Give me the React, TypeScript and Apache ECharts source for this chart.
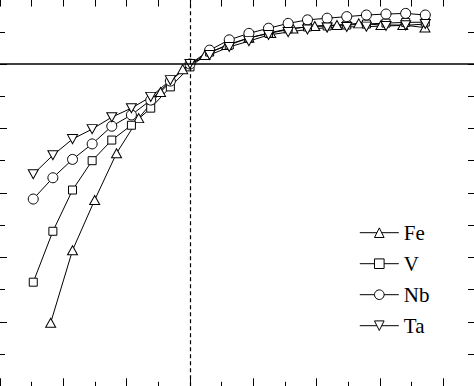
import React, { useEffect, useRef } from "react";
import * as echarts from "echarts";

// x positions (axis units: one minor tick = 1, dashed reference line at 0)
const xVNbTa = [-4.95, -4.33, -3.71, -3.09, -2.47, -1.85, -1.24, -0.62, 0.0, 0.62, 1.24, 1.86, 2.48, 3.1, 3.71, 4.33, 4.95, 5.57, 6.19, 6.81, 7.43];
const xFe = [-4.4, -3.71, -3.01, -2.32, -1.62, -0.93, -0.23, 0.47, 1.16, 1.86, 2.55, 3.25, 3.94, 4.64, 5.33, 6.03, 6.72, 7.42];

const feY = [-8.03, -5.78, -4.22, -2.77, -1.68, -0.87, -0.16, 0.28, 0.59, 0.81, 0.96, 1.1, 1.18, 1.21, 1.26, 1.21, 1.21, 1.13];
const vY = [-6.77, -5.19, -3.91, -3.0, -2.36, -1.9, -1.37, -0.71, -0.09, 0.37, 0.59, 0.81, 0.96, 1.09, 1.15, 1.18, 1.21, 1.24, 1.27, 1.29, 1.3];
const nbY = [-4.19, -3.53, -2.96, -2.48, -1.93, -1.58, -1.12, -0.53, 0.0, 0.43, 0.75, 0.95, 1.11, 1.26, 1.37, 1.42, 1.47, 1.52, 1.55, 1.57, 1.52];
const taY = [-3.42, -2.83, -2.33, -2.02, -1.65, -1.37, -1.02, -0.5, 0.0, 0.28, 0.53, 0.71, 0.9, 0.99, 1.07, 1.13, 1.15, 1.16, 1.18, 1.2, 1.24];

const seriesNames = ["Fe", "V", "Nb", "Ta"];

const X_MIN = -6;
const X_MAX = 9;
const Y_MIN = -10;
const Y_MAX = 2;

const downTriangle = "path://M0,0 L10,0 L5,9 Z";

export default function App() {
  const ref = useRef<HTMLDivElement>(null);
  useEffect(() => {
    document.documentElement.style.overflow = "hidden";
    document.body.style.overflow = "hidden";
    const chart = echarts.init(ref.current as HTMLDivElement, null, { renderer: "svg" });

    const gridBox = { left: 20, top: 19.54, width: 475, height: 386.76 };
    const tickStyle = { color: "#000", width: 1 };
    const baseX = (extra: any) => ({
      type: "value",
      min: X_MIN,
      max: X_MAX,
      axisLine: { show: false, onZero: false },
      axisLabel: { show: false },
      splitLine: { show: false },
      ...extra,
    });
    const baseY = (extra: any) => ({
      type: "value",
      min: Y_MIN,
      max: Y_MAX,
      axisLine: { show: false, onZero: false },
      axisLabel: { show: false },
      splitLine: { show: false },
      ...extra,
    });

    const mk = (name: string, xs: number[], ys: number[], symbol: string, size: any, extra: any = {}) => ({
      name,
      type: "line",
      xAxisIndex: 0,
      yAxisIndex: 0,
      data: xs.map((x, i) => [x, ys[i]]),
      symbol,
      symbolSize: size,
      showAllSymbol: true,
      lineStyle: { color: "#000", width: 1 },
      itemStyle: { color: "#fff", borderColor: "#000", borderWidth: 1 },
      emphasis: { disabled: true },
      ...extra,
    });

    const option: any = {
      animation: false,
      backgroundColor: "#fff",
      grid: [
        { ...gridBox, containLabel: false },
        { ...gridBox, containLabel: false },
      ],
      xAxis: [
        baseX({ gridIndex: 0, position: "bottom", interval: 2, axisTick: { show: true, inside: true, length: 8, lineStyle: tickStyle } }),
        baseX({ gridIndex: 0, position: "top", interval: 1, axisTick: { show: true, inside: true, length: 7, lineStyle: tickStyle } }),
        baseX({ gridIndex: 1, position: "bottom", interval: 1, axisTick: { show: true, inside: true, length: 4.5, lineStyle: tickStyle } }),
      ],
      yAxis: [
        baseY({
          gridIndex: 0,
          position: "left",
          interval: 2,
          axisTick: { show: true, inside: true, length: 7, lineStyle: tickStyle },
          minorTick: { show: true, splitNumber: 2, length: 5, lineStyle: tickStyle },
        }),
        baseY({ gridIndex: 0, position: "right", interval: 1, axisTick: { show: true, inside: true, length: 7, lineStyle: tickStyle } }),
        baseY({ gridIndex: 1, position: "left", interval: 1, show: false }),
      ],
      legend: {
        orient: "vertical",
        left: 379.3,
        top: 242.2,
        padding: 0,
        itemWidth: 39,
        itemHeight: 12,
        itemGap: 10,
        selectedMode: false,
        itemStyle: { color: "#fff", borderColor: "#000", borderWidth: 1 },
        lineStyle: { color: "#000", width: 1 },
        textStyle: { fontFamily: "'Liberation Serif', 'Times New Roman', serif", fontSize: 21, lineHeight: 21, color: "#000" },
        data: seriesNames,
      },
      series: [
        mk(seriesNames[0], xFe, feY, "triangle", [10, 9], {
          markLine: {
            silent: true,
            symbol: "none",
            label: { show: false },
            data: [
              { xAxis: 0, lineStyle: { color: "#000", width: 1.2, type: [4, 3] } },
              { yAxis: 0, lineStyle: { color: "#000", width: 1.5, type: "solid" } },
            ],
          },
        }),
        mk(seriesNames[1], xVNbTa, vY, "rect", 8),
        mk(seriesNames[2], xVNbTa, nbY, "circle", 10),
        mk(seriesNames[3], xVNbTa, taY, downTriangle, [10, 9]),
      ],
    };
    chart.setOption(option);
    return () => chart.dispose();
  }, []);
  return <div ref={ref} style={{ position: "fixed", left: -20, top: -20, width: 540, height: 450 }} />;
}
